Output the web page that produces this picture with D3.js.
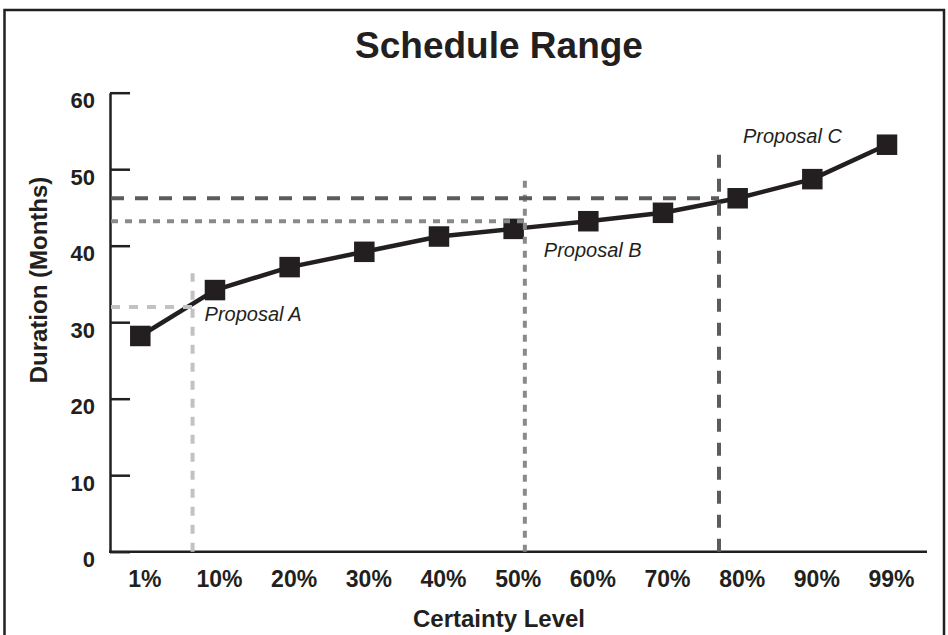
<!DOCTYPE html>
<html>
<head>
<meta charset="utf-8">
<script src="https://cdn.jsdelivr.net/npm/d3@7"></script>
<style>
  html, body { margin: 0; padding: 0; background: #ffffff; }
  svg { display: block; }
</style>
</head>
<body>
<svg id="chart" width="948" height="635"></svg>
<script>
// ---------------- DATA ----------------
const categories = ["1%", "10%", "20%", "30%", "40%", "50%", "60%", "70%", "80%", "90%", "99%"];
const durations = [28.2, 34.2, 37.2, 39.2, 41.2, 42.2, 43.2, 44.3, 46.2, 48.7, 53.2];
const yTicks = [0, 10, 20, 30, 40, 50, 60];
const proposalNames = ["Proposal A", "Proposal B", "Proposal C"];
const proposalPosition = [0.7, 5.15, 7.75];   // position along certainty axis (category index units)
const proposalDuration = [32, 43.2, 46.2];    // months (horizontal reference)
const proposalTop = [36.4, 49, 52.6];          // top of vertical reference line (months)
const chartTitle = "Schedule Range";
const xTitle = "Certainty Level";
const yTitle = "Duration (Months)";

// ---------------- STYLE / LAYOUT ----------------
const ink = "#231f20";
const font = "'Liberation Sans', Arial, Helvetica, sans-serif";
const proposalStyle = [
  { color: "#c2c2c4", dash: "9,9",  lx: 12, ly: 14 },
  { color: "#8a8a8c", dash: "7,7",  lx: 19, ly: 36 },
  { color: "#5c5c5e", dash: "13,11", lx: 24, ly: -55 }
];

const svg = d3.select("#chart");

const axisX0 = 110, axisX1 = 927;
const x = d3.scalePoint().domain(categories).range([140.3, 887]).padding(0);
const xIdx = d3.scaleLinear().domain([0, categories.length - 1]).range(x.range());
const y = d3.scaleLinear().domain([0, 60]).range([551.7, 92.7]);

// frame
svg.append("rect")
  .attr("x", 4.5).attr("y", 10)
  .attr("width", 939.5).attr("height", 640)
  .attr("fill", "none").attr("stroke", ink).attr("stroke-width", 2.5);

// title
svg.append("text")
  .attr("x", 499).attr("y", 58)
  .attr("text-anchor", "middle")
  .attr("font-family", font).attr("font-weight", "bold")
  .attr("font-size", 37).attr("fill", ink)
  .text(chartTitle);

// y axis
const yAxis = d3.axisLeft(y)
  .tickValues(yTicks)
  .tickSizeInner(-20)
  .tickSizeOuter(0)
  .tickPadding(15)
  .tickFormat(d3.format("d"));
const gy = svg.append("g").attr("transform", `translate(${axisX0},0)`).call(yAxis);
gy.select(".domain").attr("stroke", ink).attr("stroke-width", 2.5);
gy.selectAll(".tick line").attr("stroke", ink).attr("stroke-width", 2.5);
gy.selectAll(".tick text")
  .attr("font-family", font).attr("font-weight", "bold")
  .attr("font-size", 22).attr("fill", ink)
  .attr("dy", "0.68em");

// x axis (labels) + line
svg.append("line")
  .attr("x1", axisX0 - 1).attr("x2", axisX1)
  .attr("y1", y(0)).attr("y2", y(0))
  .attr("stroke", ink).attr("stroke-width", 2.5);
const xAxis = d3.axisBottom(x).tickSize(0).tickPadding(19);
const gx = svg.append("g").attr("transform", `translate(0,${y(0)})`).call(xAxis);
gx.select(".domain").remove();
gx.selectAll(".tick text")
  .attr("font-family", font).attr("font-weight", "bold")
  .attr("font-size", 23).attr("fill", ink)
  .attr("dx", 4);

// axis titles
svg.append("text")
  .attr("x", 499).attr("y", 627)
  .attr("text-anchor", "middle")
  .attr("font-family", font).attr("font-weight", "bold")
  .attr("font-size", 24).attr("fill", ink)
  .text(xTitle);
svg.append("text")
  .attr("transform", "translate(47,280) rotate(-90)")
  .attr("text-anchor", "middle")
  .attr("font-family", font).attr("font-weight", "bold")
  .attr("font-size", 24).attr("fill", ink)
  .text(yTitle);

// data line
const line = d3.line()
  .x((d, i) => x(categories[i]))
  .y(d => y(d));
svg.append("path")
  .datum(durations)
  .attr("d", line)
  .attr("fill", "none")
  .attr("stroke", ink)
  .attr("stroke-width", 4.5)
  .attr("stroke-linejoin", "round");

// markers
const ms = 20.5;
svg.selectAll("rect.marker")
  .data(durations)
  .join("rect")
  .attr("class", "marker")
  .attr("x", (d, i) => x(categories[i]) - ms / 2)
  .attr("y", d => y(d) - ms / 2)
  .attr("width", ms).attr("height", ms)
  .attr("fill", ink);

// proposal reference lines
const proposals = proposalNames.map((name, i) => ({
  name, pos: proposalPosition[i], dur: proposalDuration[i], top: proposalTop[i], style: proposalStyle[i]
}));
const gp = svg.append("g");
proposals.forEach(p => {
  gp.append("line")
    .attr("x1", axisX0 + 1).attr("x2", xIdx(p.pos))
    .attr("y1", y(p.dur)).attr("y2", y(p.dur))
    .attr("stroke", p.style.color).attr("stroke-width", 4)
    .attr("stroke-dasharray", p.style.dash);
  gp.append("line")
    .attr("x1", xIdx(p.pos)).attr("x2", xIdx(p.pos))
    .attr("y1", y(0)).attr("y2", y(p.top))
    .attr("stroke", p.style.color).attr("stroke-width", 4)
    .attr("stroke-dasharray", p.style.dash);
  gp.append("text")
    .attr("x", xIdx(p.pos) + p.style.lx)
    .attr("y", y(p.dur) + p.style.ly)
    .attr("font-family", font).attr("font-style", "italic")
    .attr("font-size", 20).attr("fill", ink)
    .text(p.name);
});
</script>
</body>
</html>
